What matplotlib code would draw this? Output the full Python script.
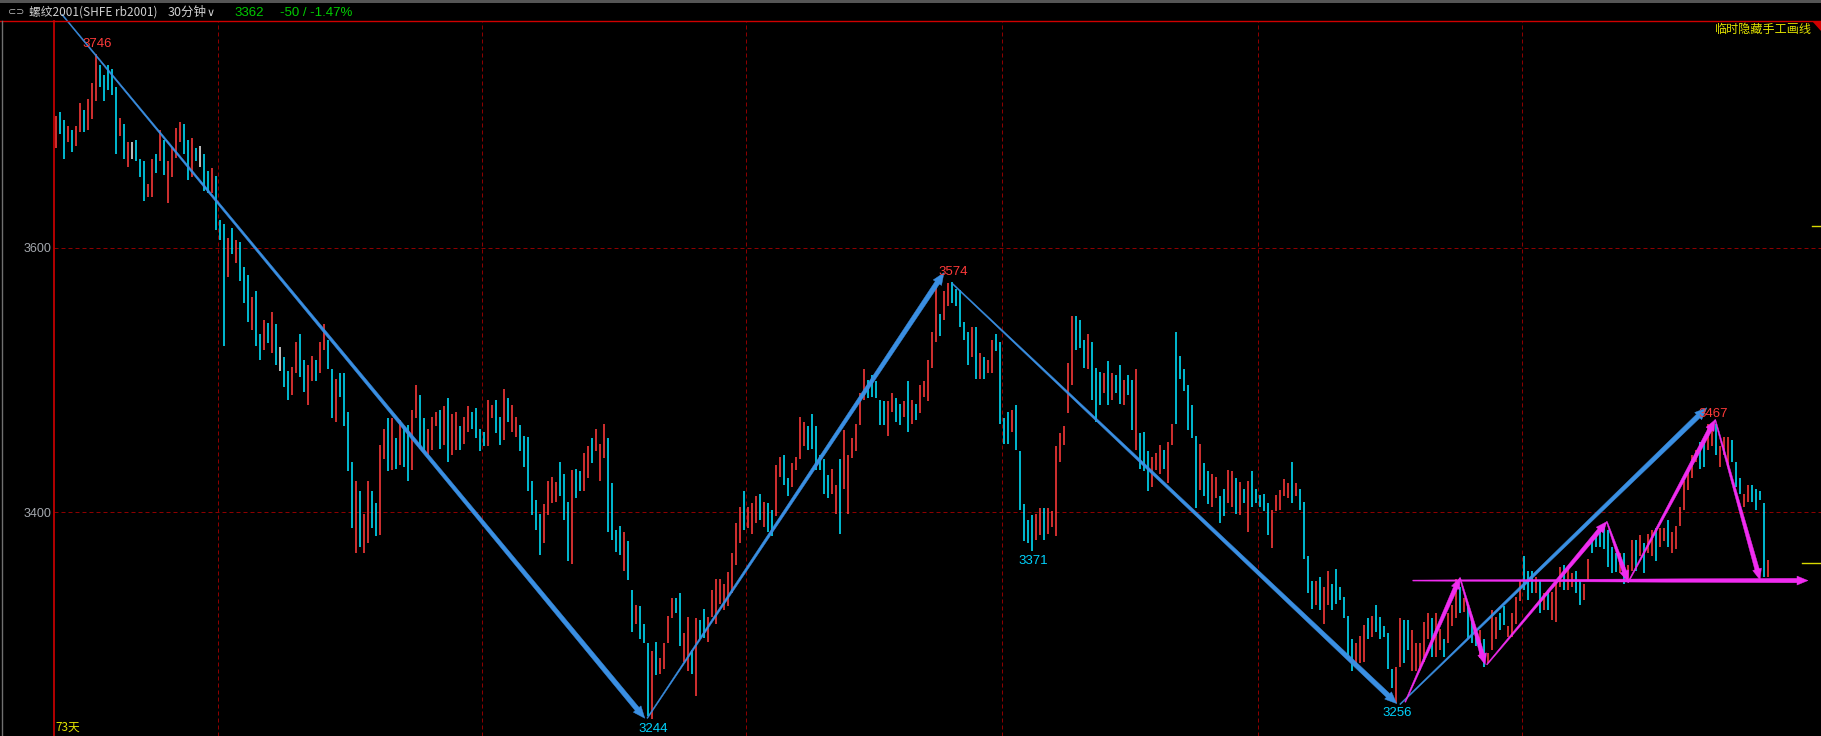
"""30-minute rebar chart with hand-drawn trend arrows."""

import matplotlib
import matplotlib.pyplot as plt
import numpy as np
from matplotlib.lines import Line2D
from matplotlib.patches import Polygon, Rectangle
from matplotlib.transforms import IdentityTransform, blended_transform_factory

matplotlib.use("Agg")

# ---- data -----------------------------------------------------------------
bar_low = [
    3675, 3686, 3667, 3680, 3672, 3677, 3687, 3687, 3689, 3697,
    3711, 3721, 3711, 3719, 3715, 3671, 3684, 3667, 3661, 3667,
    3665, 3653, 3635, 3638, 3638, 3656, 3665, 3655, 3634, 3653,
    3668, 3680, 3671, 3651, 3653, 3665, 3661, 3643, 3641, 3641,
    3613, 3606, 3526, 3578, 3595, 3588, 3575, 3558, 3544, 3538,
    3526, 3515, 3523, 3528, 3520, 3511, 3507, 3495, 3485, 3489,
    3505, 3502, 3491, 3481, 3499, 3499, 3505, 3523, 3508, 3471,
    3468, 3487, 3465, 3431, 3388, 3369, 3374, 3369, 3377, 3388,
    3382, 3383, 3440, 3431, 3432, 3433, 3436, 3434, 3424, 3432,
    3471, 3448, 3447, 3442, 3447, 3465, 3448, 3451, 3438, 3443,
    3447, 3447, 3452, 3461, 3463, 3456, 3446, 3450, 3450, 3471,
    3460, 3451, 3455, 3468, 3461, 3457, 3446, 3434, 3416, 3398,
    3387, 3368, 3377, 3398, 3407, 3408, 3412, 3394, 3363, 3361,
    3411, 3416, 3416, 3426, 3437, 3446, 3424, 3441, 3385, 3379,
    3370, 3368, 3356, 3349, 3310, 3316, 3304, 3301, 3246, 3244,
    3277, 3278, 3282, 3301, 3320, 3324, 3299, 3287, 3280, 3278,
    3261, 3304, 3305, 3302, 3321, 3316, 3331, 3326, 3329, 3339,
    3360, 3377, 3387, 3388, 3384, 3392, 3394, 3389, 3385, 3382,
    3397, 3427, 3421, 3412, 3419, 3432, 3440, 3450, 3447, 3448,
    3432, 3432, 3414, 3411, 3414, 3399, 3384, 3418, 3399, 3441,
    3446, 3466, 3485, 3486, 3487, 3486, 3466, 3466, 3458, 3476,
    3468, 3466, 3472, 3461, 3467, 3470, 3475, 3487, 3484, 3509,
    3529, 3533, 3545, 3556, 3558, 3556, 3540, 3530, 3511, 3517,
    3501, 3501, 3501, 3505, 3505, 3522, 3467, 3452, 3452, 3461,
    3447, 3402, 3378, 3377, 3371, 3379, 3383, 3379, 3384, 3389,
    3382, 3438, 3451, 3475, 3496, 3523, 3524, 3509, 3508, 3485,
    3468, 3481, 3490, 3481, 3485, 3490, 3482, 3481, 3489, 3462,
    3447, 3433, 3431, 3416, 3419, 3432, 3429, 3433, 3422, 3451,
    3467, 3501, 3492, 3462, 3456, 3403, 3417, 3412, 3406, 3404,
    3411, 3392, 3397, 3407, 3404, 3399, 3398, 3407, 3385, 3404,
    3407, 3404, 3401, 3383, 3373, 3401, 3402, 3412, 3411, 3407,
    3412, 3402, 3365, 3339, 3327, 3330, 3326, 3316, 3330, 3326,
    3331, 3334, 3320, 3292, 3280, 3285, 3286, 3287, 3304, 3306,
    3310, 3304, 3306, 3282, 3267, 3256, 3283, 3286, 3296, 3280,
    3280, 3281, 3287, 3304, 3291, 3291, 3296, 3291, 3301, 3314,
    3320, 3324, 3325, 3305, 3301, 3299, 3290, 3283, 3286, 3296,
    3304, 3311, 3315, 3306, 3306, 3316, 3333, 3341, 3334, 3339,
    3339, 3324, 3326, 3326, 3319, 3317, 3344, 3341, 3341, 3344,
    3339, 3330, 3334, 3349, 3369, 3374, 3374, 3372, 3359, 3354,
    3355, 3354, 3346, 3348, 3356, 3356, 3367, 3354, 3369, 3367,
    3363, 3374, 3378, 3374, 3369, 3372, 3390, 3402, 3417, 3426,
    3438, 3433, 3434, 3447, 3450, 3443, 3434, 3443, 3434, 3438,
    3419, 3414, 3404, 3408, 3408, 3402, 3409, 3351, 3351,
]
bar_high = [
    3699, 3702, 3696, 3692, 3689, 3692, 3709, 3704, 3712, 3724,
    3746, 3738, 3730, 3738, 3735, 3721, 3698, 3693, 3680, 3680,
    3681, 3667, 3665, 3648, 3667, 3671, 3689, 3681, 3665, 3676,
    3690, 3695, 3693, 3681, 3683, 3675, 3677, 3671, 3658, 3660,
    3654, 3621, 3618, 3607, 3615, 3606, 3604, 3585, 3579, 3563,
    3567, 3535, 3545, 3543, 3551, 3542, 3525, 3517, 3507, 3510,
    3529, 3535, 3515, 3511, 3518, 3515, 3529, 3542, 3530, 3508,
    3501, 3505, 3505, 3476, 3438, 3424, 3416, 3399, 3424, 3416,
    3407, 3451, 3463, 3471, 3471, 3456, 3470, 3465, 3466, 3477,
    3496, 3489, 3471, 3463, 3472, 3476, 3477, 3480, 3486, 3474,
    3476, 3465, 3472, 3480, 3476, 3479, 3463, 3461, 3485, 3481,
    3485, 3472, 3493, 3486, 3481, 3472, 3466, 3458, 3457, 3424,
    3409, 3399, 3406, 3424, 3427, 3423, 3438, 3429, 3408, 3432,
    3433, 3431, 3445, 3450, 3456, 3463, 3452, 3467, 3456, 3422,
    3387, 3390, 3385, 3378, 3341, 3330, 3329, 3316, 3301, 3295,
    3302, 3290, 3301, 3322, 3335, 3335, 3339, 3309, 3321, 3296,
    3320, 3319, 3327, 3321, 3341, 3350, 3350, 3346, 3355, 3369,
    3392, 3404, 3416, 3404, 3407, 3412, 3414, 3408, 3407, 3402,
    3436, 3442, 3443, 3426, 3437, 3442, 3472, 3468, 3465, 3474,
    3465, 3443, 3440, 3428, 3433, 3421, 3440, 3462, 3443, 3456,
    3467, 3490, 3508, 3500, 3504, 3499, 3485, 3484, 3484, 3490,
    3486, 3482, 3484, 3499, 3485, 3482, 3496, 3499, 3515, 3536,
    3570, 3550, 3567, 3573, 3574, 3569, 3568, 3544, 3536, 3540,
    3540, 3520, 3517, 3515, 3530, 3535, 3529, 3471, 3476, 3477,
    3481, 3446, 3406, 3394, 3398, 3399, 3403, 3403, 3403, 3401,
    3450, 3460, 3465, 3513, 3548, 3548, 3545, 3530, 3535, 3529,
    3509, 3506, 3505, 3514, 3505, 3504, 3511, 3500, 3504, 3500,
    3508, 3460, 3461, 3446, 3442, 3445, 3451, 3447, 3453, 3467,
    3536, 3518, 3508, 3496, 3481, 3458, 3452, 3437, 3431, 3429,
    3427, 3412, 3418, 3432, 3431, 3426, 3423, 3418, 3424, 3431,
    3418, 3413, 3414, 3407, 3402, 3413, 3417, 3425, 3422, 3438,
    3422, 3418, 3408, 3367, 3348, 3348, 3351, 3344, 3356, 3346,
    3357, 3344, 3336, 3322, 3304, 3301, 3307, 3315, 3320, 3322,
    3330, 3321, 3314, 3309, 3282, 3283, 3320, 3319, 3319, 3311,
    3301, 3301, 3317, 3324, 3320, 3324, 3312, 3304, 3324, 3330,
    3350, 3344, 3335, 3329, 3322, 3312, 3311, 3304, 3294, 3326,
    3321, 3324, 3329, 3314, 3324, 3336, 3349, 3367, 3356, 3356,
    3351, 3349, 3339, 3341, 3340, 3349, 3359, 3360, 3359, 3354,
    3356, 3349, 3346, 3365, 3379, 3385, 3390, 3389, 3387, 3374,
    3369, 3369, 3369, 3360, 3379, 3379, 3383, 3377, 3384, 3387,
    3388, 3388, 3388, 3394, 3385, 3390, 3404, 3424, 3433, 3443,
    3447, 3453, 3456, 3467, 3467, 3467, 3450, 3457, 3457, 3455,
    3438, 3426, 3414, 3421, 3421, 3418, 3416, 3407, 3364,
]
# u = up bar, d = down bar, n = unchanged
bar_dir = (
    "udduduuduu" "udddddudun" "ddduududuu" "uuddudnddu" "dddududddu"
    "ddududnddu" "udduuduudd" "udddduduud" "duudududdu" "udduuududu"
    "uduudddduu" "dduduudddd" "dduuuudddu" "dduuduuudd" "dduddudddu"
    "duuuudduud" "udduuuuuuu" "uuduuududd" "uudduuuudd" "dddduuduuu"
    "uuuddddduu" "ddududuuuu" "uduudddddu" "duduuddddu" "ddddduuduu"
    "uuuuudddud" "ddududdudd" "uddduuuduu" "dddddduddu" "udduududud"
    "dddduuuuud" "udddduduud" "ddddduuudu" "ddddduuddu" "uuuuduuduu"
    "ududdduduu" "udduuuuddd" "ududuuuduu" "dduudddddd" "duduududuu"
    "duuduuuuuu" "udduuduuud" "dduuddddu"
)
last_price = 3362
right_mark_price = 3616

ytick_vals = [3400, 3600]
day_lines = [40.6, 106.6, 172.6, 236.6, 300.6, 366.6]  # bar positions of the day dividers

# pivot labels: bar index, price, placed above (True) or below (False)
pivot_idx = [10, 224, 244, 149, 335, 414]
pivot_price = [3746, 3574, 3371, 3244, 3256, 3467]
pivot_top = [True, True, False, False, False, True]

# hand-drawn arrows: (bar index, price) start -> end
blue_arrows = [
    ((1.5, 3776), (147.2, 3244.5)),
    ((147.8, 3244.5), (222.0, 3581)),
    ((224.0, 3573), (335.2, 3255.5)),
    ((336.0, 3255), (412.7, 3479)),
]
pink_arrows = [
    ((337.3, 3256.7), (351.0, 3350.6)),
    ((351.0, 3350.6), (357.3, 3285)),
    ((357.7, 3285), (387.7, 3393)),
    ((387.7, 3393), (393.0, 3347.6)),
    ((393.0, 3347), (414.8, 3470)),
    ((414.8, 3470), (426.0, 3349)),
    ((339.2, 3348.5), (438.0, 3348.5)),
]

# ---- figure ---------------------------------------------------------------
W, H = 1821, 736
RED = "#d00000"
GRID = "#8c0000"
UP, DOWN, FLAT = "#ff3a3a", "#00e2ff", "#e8e8e8"
BLUE, PINK = "#3a8fe3", "#f02cf0"
CJK = ["Noto Sans CJK SC", "DejaVu Sans"]
NUM = ["Liberation Sans", "DejaVu Sans"]

fig = plt.figure(figsize=(W / 100, H / 100), dpi=100, facecolor="black")
ax = fig.add_axes([54 / W, 0, 1 - 54 / W, (H - 21) / H], facecolor="black")

n = len(bar_low)
idx = np.arange(n)
ax.set_xlim(-0.5, 441.25)
ax.set_ylim(3231.1, 3771.1)
ax.set_autoscale_on(False)

for s in ("top", "right", "bottom"):
    ax.spines[s].set_visible(False)
ax.spines["left"].set_color(RED)
ax.spines["left"].set_linewidth(1.2)

ax.set_yticks(ytick_vals)
ax.set_yticklabels([str(v) for v in ytick_vals], fontfamily=NUM, fontsize=9)
ax.tick_params(axis="y", length=0, pad=2, colors="#a4a8ae")
ax.set_xticks(day_lines)
ax.tick_params(axis="x", length=0, labelbottom=False)
ax.grid(True, color=GRID, linestyle=(0, (4, 3)), linewidth=0.72, zorder=0)
ax.set_axisbelow(True)

# bars: thin high-low strokes, as in the terminal
cmap = {"u": UP, "d": DOWN, "n": FLAT}
cols = [cmap[c] for c in bar_dir]
ax.vlines(idx, bar_low, bar_high, colors=cols, linewidth=1.15, antialiased=True, zorder=2)


def taper_arrow(ax, start, end, w0, w1, head_len, head_w, color):
    """wedge-shaped arrow drawn in pixel space between two data points."""
    x0, y0 = ax.transData.transform(start)
    x1, y1 = ax.transData.transform(end)
    d = np.hypot(x1 - x0, y1 - y0)
    ux, uy = (x1 - x0) / d, (y1 - y0) / d
    nx, ny = -uy, ux
    bx, by = x1 - ux * head_len, y1 - uy * head_len
    pts = [
        (x0 + nx * w0 / 2, y0 + ny * w0 / 2),
        (bx + nx * w1 / 2, by + ny * w1 / 2),
        (bx + nx * head_w / 2, by + ny * head_w / 2),
        (x1, y1),
        (bx - nx * head_w / 2, by - ny * head_w / 2),
        (bx - nx * w1 / 2, by - ny * w1 / 2),
        (x0 - nx * w0 / 2, y0 - ny * w0 / 2),
    ]
    ax.add_patch(Polygon(pts, closed=True, transform=IdentityTransform(), facecolor=color,
                         edgecolor=color, linewidth=0.3, clip_on=False, zorder=4))


for a, b in blue_arrows:
    taper_arrow(ax, a, b, 1.0, 5.0, 12, 10, BLUE)
for a, b in pink_arrows:
    taper_arrow(ax, a, b, 1.0, 4.5, 11, 9, PINK)

# pivot labels
for i, p, top in zip(pivot_idx, pivot_price, pivot_top):
    ax.annotate(str(p), xy=(i, p), xytext=(1, 4 if top else -4), textcoords="offset pixels",
                ha="center", va="bottom" if top else "top", fontsize=9.5, fontfamily=NUM,
                color=UP if top else "#00d4ff", zorder=5)

# price markers at the right edge
bt = blended_transform_factory(ax.transAxes, ax.transData)
ax.plot([0.9949, 1.0], [right_mark_price] * 2, color="#d8d800", lw=1, transform=bt, clip_on=False)
ax.plot([0.9892, 1.0], [last_price] * 2, color="#d8d800", lw=1, transform=bt, clip_on=False)


# ---- window chrome --------------------------------------------------------
def fx(x):
    return x / W


def fy(y):
    return 1 - y / H


fig.patches.append(Rectangle((0, fy(2.5)), 1, 2.5 / H, transform=fig.transFigure,
                             facecolor="#555555", edgecolor="none"))
fig.add_artist(Line2D([0, 1], [fy(21), fy(21)], color=RED, lw=1.0))
fig.add_artist(Line2D([fx(1.5), fx(1.5)], [0, fy(21)], color="#707070", lw=1.0))
fig.patches.append(Polygon([(fx(1812), fy(21)), (fx(1821), fy(21)), (fx(1821), fy(31))],
                           closed=True, transform=fig.transFigure, facecolor=RED,
                           edgecolor="none"))

hy = fy(12.5)
fig.text(fx(8), hy, "⊂⊃", color="#b4b4b4", fontsize=7, va="center", family=["DejaVu Sans"])
fig.text(fx(29), hy, "螺纹2001(SHFE rb2001)", color="#d0d0d0", fontsize=8.5, va="center",
         family=CJK)
fig.text(fx(168), hy, "30分钟", color="#d0d0d0", fontsize=9, va="center", family=CJK)
fig.text(fx(207), hy, "∨", color="#d0d0d0", fontsize=8, va="center", family=["DejaVu Sans"])
fig.text(fx(234), hy, f"{last_price}", color="#00cc00", fontsize=9.5, va="center", family=NUM)
fig.text(fx(280), hy, "-50 / -1.47%", color="#00cc00", fontsize=9.5, va="center", family=NUM)
fig.text(fx(1812), fy(29.5), "临时隐藏手工画线", color="#e4e400", fontsize=8.7, va="center",
         ha="right", family=CJK)
fig.text(fx(55), fy(727.5), "73天", color="#e4e400", fontsize=8.5, va="center", family=CJK)

fig.savefig("out.png", dpi=100, facecolor="black")
